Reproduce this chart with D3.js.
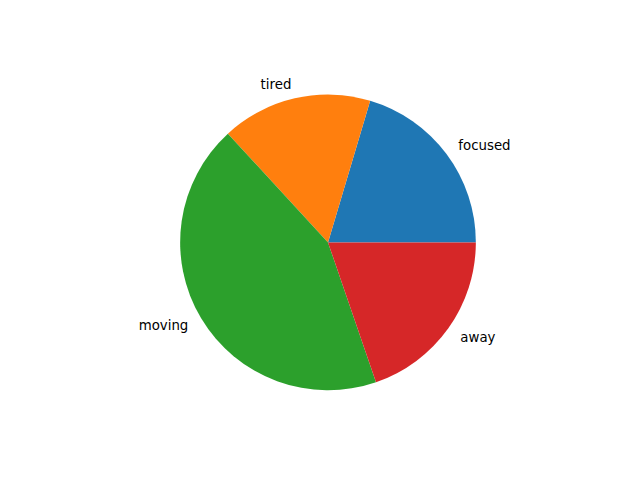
<!DOCTYPE html>
<html>
<head>
<meta charset="utf-8">
<script src="https://cdn.jsdelivr.net/npm/d3@7"></script>
<style>
  body { margin: 0; background: #fff; }
  text { font-family: "DejaVu Sans", sans-serif; font-size: 13.33px; fill: #000; }
</style>
</head>
<body>
<svg id="mainsvg" width="640" height="480"></svg>
<script>
  // slice values
  const labels = ['focused', 'tired', 'moving', 'away']
  const values = [31, 25, 66, 30]
  const colors = ['#1f77b4', '#ff7f0e', '#2ca02c', '#d62728']

  const svg = d3.select('#mainsvg')
  const cx = 328, cy = 242.4
  const r = 147.84

  const g = svg.append('g').attr('transform', `translate(${cx}, ${cy})`)

  // matplotlib starts at 3 o'clock and goes counter-clockwise
  const pie = d3.pie().sort(null)
    .startAngle(Math.PI / 2)
    .endAngle(Math.PI / 2 - 2 * Math.PI)
  const arcs = pie(values)
  const arc = d3.arc().innerRadius(0).outerRadius(r)

  g.selectAll('path').data(arcs).join('path')
    .attr('d', arc)
    .attr('fill', (d, i) => colors[i])

  g.selectAll('text').data(arcs).join('text')
    .each(function(d, i) {
      const a = (d.startAngle + d.endAngle) / 2   // d3 angle: 0 = up, clockwise
      const x = 1.1 * r * Math.sin(a)
      const y = -1.1 * r * Math.cos(a)
      d3.select(this)
        .attr('x', x)
        .attr('y', y)
        .attr('dy', '0.35em')
        .attr('text-anchor', x > 0 ? 'start' : 'end')
        .text(labels[i])
    })
</script>
</body>
</html>
